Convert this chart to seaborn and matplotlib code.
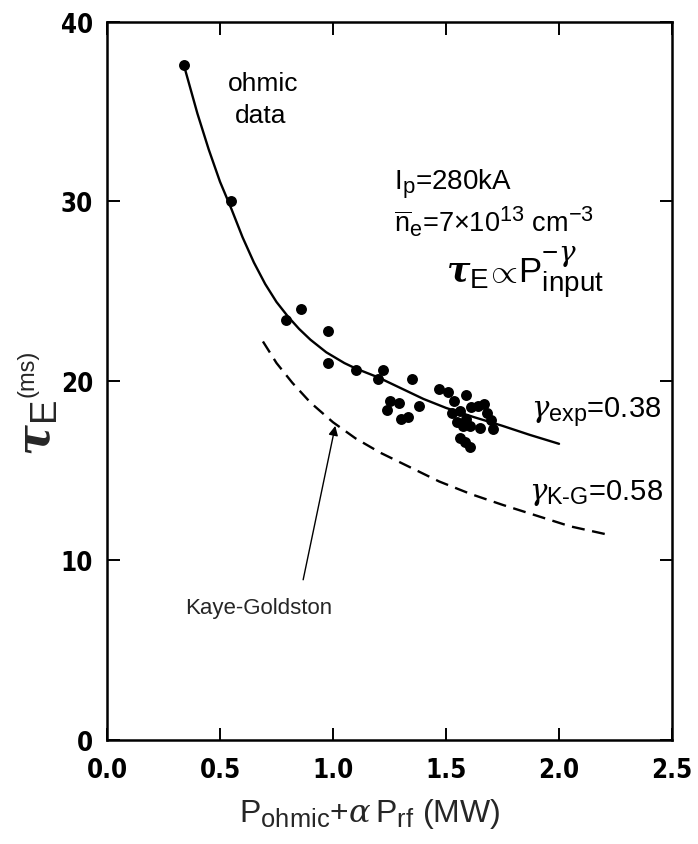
import matplotlib
matplotlib.use("Agg")
import matplotlib.pyplot as plt
import matplotlib._mathtext as mathtext_internal
import seaborn as sns
import pandas as pd

# Measured ohmic data: input power (MW) and energy confinement time (ms)
p_input = [0.34, 0.55, 0.79, 0.86, 0.98, 0.98, 1.10, 1.22, 1.20, 1.35,
           1.25, 1.29, 1.24, 1.30, 1.33, 1.38, 1.47, 1.51, 1.59, 1.535,
           1.525, 1.56, 1.547, 1.59, 1.61, 1.64, 1.67, 1.68, 1.70, 1.71,
           1.65, 1.606, 1.575, 1.56, 1.606, 1.585]
tau_e = [37.6, 30.0, 23.4, 24.0, 22.8, 21.0, 20.6, 20.6, 20.1, 20.1,
         18.9, 18.8, 18.4, 17.9, 18.0, 18.6, 19.55, 19.4, 19.2, 18.9,
         18.2, 18.35, 17.7, 17.9, 18.55, 18.6, 18.7, 18.2, 17.8, 17.3,
         17.4, 17.5, 17.5, 16.8, 16.3, 16.6]

# Fitted curve, gamma_exp = 0.38
fit_p = [0.34, 0.40, 0.45, 0.50, 0.55, 0.60, 0.65, 0.70, 0.75, 0.80, 0.85,
         0.90, 0.97, 1.05, 1.10, 1.20, 1.30, 1.40, 1.50, 1.62, 1.75, 1.87, 2.00]
fit_tau = [37.6, 34.9, 32.9, 31.1, 29.6, 28.0, 26.6, 25.4, 24.4, 23.6, 22.9,
           22.3, 21.6, 21.0, 20.7, 20.2, 19.6, 19.0, 18.5, 18.0, 17.5, 17.0, 16.5]

# Kaye-Goldston scaling, gamma_K-G = 0.58
kg_p = [0.69, 0.75, 0.82, 0.90, 1.00, 1.10, 1.21, 1.34, 1.47, 1.61,
        1.75, 1.90, 2.05, 2.23]
kg_tau = [22.2, 21.0, 19.9, 18.8, 17.7, 16.8, 16.0, 15.2, 14.4, 13.7,
          13.1, 12.5, 11.9, 11.4]

x_ticks = [0.0, 0.5, 1.0, 1.5, 2.0, 2.5]
x_ticklabels = ["0.0", "0.5", "1.0", "1.5", "2.0", "2.5"]
y_ticks = [0, 10, 20, 30, 40]
y_ticklabels = ["0", "10", "20", "30", "40"]

sns.set_style("ticks")
plt.rcParams["font.family"] = ["Liberation Sans", "DejaVu Sans"]
plt.rcParams["mathtext.fontset"] = "custom"
plt.rcParams["mathtext.rm"] = "Liberation Sans"
plt.rcParams["mathtext.it"] = "DejaVu Serif:italic"
plt.rcParams["mathtext.bf"] = "DejaVu Serif:italic:bold"
# larger sub/superscripts, as in typeset lab figures
if hasattr(mathtext_internal, "SHRINK_FACTOR"):
    mathtext_internal.SHRINK_FACTOR = 0.8

fig = plt.figure(figsize=(6.98, 8.45), dpi=100)
ax = fig.add_axes([0.1533, 0.1231, 0.8095, 0.8497])

data = pd.DataFrame({"P": p_input, "tau": tau_e})
fit = pd.DataFrame({"P": fit_p, "tau": fit_tau})
kg = pd.DataFrame({"P": kg_p, "tau": kg_tau})

sns.lineplot(data=fit, x="P", y="tau", ax=ax, color="black", lw=1.7,
             sort=False, estimator=None)
sns.lineplot(data=kg, x="P", y="tau", ax=ax, color="black", lw=1.7,
             sort=False, estimator=None, linestyle=(0, (5.5, 3.2)))
sns.scatterplot(data=data, x="P", y="tau", ax=ax, color="black", s=62,
                edgecolor="black", linewidth=0, zorder=3)

ax.set_xlim(0, 2.5)
ax.set_ylim(0, 40)
tick_font = dict(family=["DejaVu Sans"], fontsize=18.5, fontweight="bold",
                 fontstretch="condensed")
ax.set_xticks(x_ticks)
ax.set_xticklabels(x_ticklabels, **tick_font)
ax.set_yticks(y_ticks)
ax.set_yticklabels(y_ticklabels, **tick_font)
ax.tick_params(direction="in", length=9, width=1.4, top=True, right=True,
               colors="black")
ax.tick_params(axis="x", pad=12)
ax.tick_params(axis="y", pad=10)
for s in ax.spines.values():
    s.set_linewidth(1.8)
    s.set_color("black")

ax.set_xlabel(r"$\mathrm{P_{ohmic}}$+$\alpha\,\mathrm{P_{rf}}$ (MW)",
              fontsize=23)
ax.xaxis.set_label_coords(0.465, -0.078)
ax.set_ylabel("")

# rotated axis title: symbol with subscript, unit set smaller above it
fig.text(0.056, 0.494, r"$\mathbf{\tau}_{\mathrm{E}}$", fontsize=33,
         rotation=90, ha="center", va="center")
fig.text(0.040, 0.558, "(ms)", fontsize=17, rotation=90,
         ha="center", va="center")

txt = dict(color="black", va="center")
ax.text(0.69, 36.6, "ohmic", fontsize=19, ha="center", **txt)
ax.text(0.68, 34.8, "data", fontsize=19, ha="center", **txt)
ax.text(1.27, 31.0, r"$\mathrm{I_p}$=280kA", fontsize=20, ha="left", **txt)
ax.text(1.27, 28.9,
        r"$\overline{\mathrm{n}}_{\mathrm{e}}$=7$\times$10$^{13}$ cm$^{-3}$",
        fontsize=19.5, ha="left", **txt)
ax.text(1.85, 26.1,
        r"$\mathbf{\tau}_{\mathrm{E}}\!\propto\!\mathrm{P}_{\mathrm{input}}^{-\mathit{\gamma}}$",
        fontsize=25, ha="center", **txt)
ax.text(2.165, 18.3, r"$\mathit{\gamma}_{\mathrm{exp}}$=0.38", fontsize=21,
        ha="center", **txt)
ax.text(2.165, 13.8, r"$\mathit{\gamma}_{\mathrm{K\text{-}G}}$=0.58", fontsize=21,
        ha="center", **txt)

ax.annotate("Kaye-Goldston", xy=(1.01, 17.5), xytext=(0.67, 7.4),
            fontsize=16, ha="center", va="center",
            arrowprops=dict(arrowstyle="-|>", color="black", lw=1.0,
                            shrinkA=10, shrinkB=0, mutation_scale=14,
                            relpos=(0.78, 1.0)))

fig.savefig("out.png", dpi=100)
